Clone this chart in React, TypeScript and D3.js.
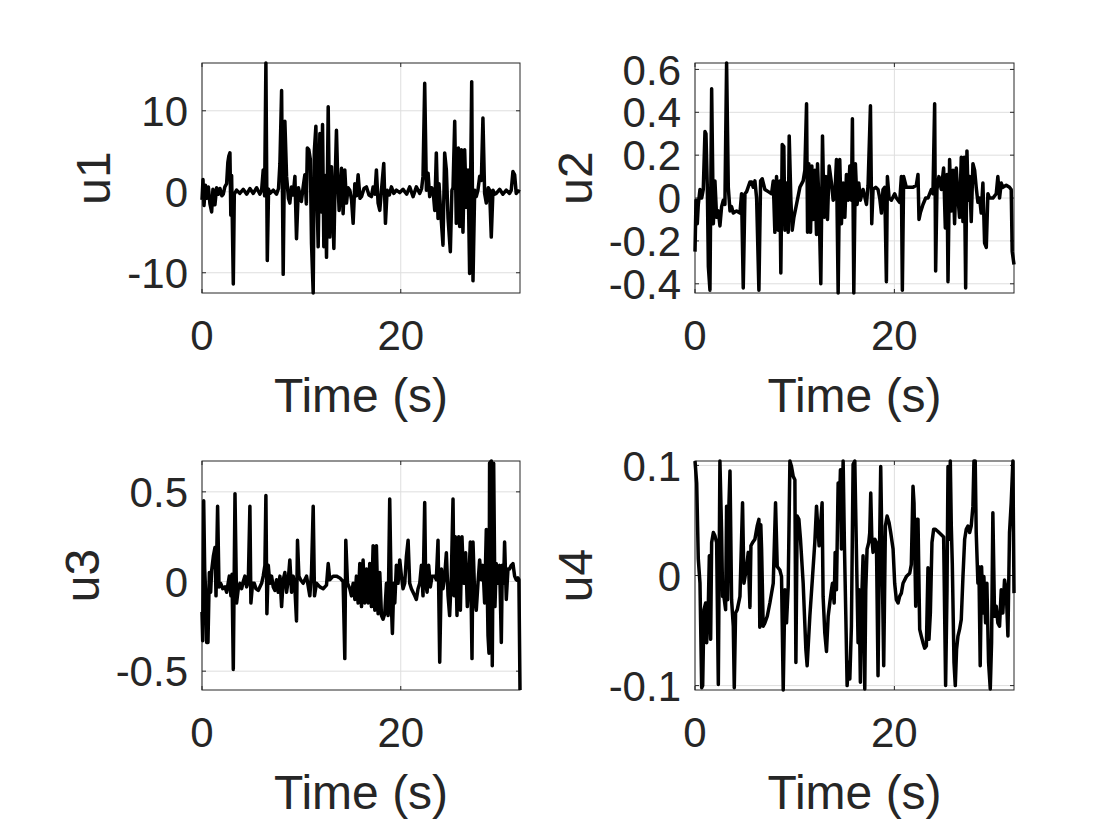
import * as d3 from "d3";
import React, { useEffect, useRef } from "react";

type Pt = [number, number]; // [time (s), value]

const timeDomain: [number, number] = [0, 32];
const timeTicks = [0, 20];
const xLabel = "Time (s)";

const u1Ticks = [-10, 0, 10];
const u2Ticks = [-0.4, -0.2, 0, 0.2, 0.4, 0.6];
const u3Ticks = [-0.5, 0, 0.5];
const u4Ticks = [-0.1, 0, 0.1];

const u1: Pt[] = [
  [0, -1.0], [0.1, 1.5], [0.2, -1.7], [0.35, 0.8], [0.5, -0.8], [0.64, 0.6], [0.8, -1.5], [0.97, -2.5],
  [1.1, 0.3], [1.3, -1.6], [1.47, 0.5], [1.65, -0.3], [1.81, 0.4], [2.0, -0.5], [2.14, -0.3], [2.3, 0.6],
  [2.48, 1.0], [2.6, 3.6], [2.7, 4.4], [2.81, 4.8], [2.9, -2.9], [2.98, 2.0], [3.15, -11.4], [3.25, -0.3],
  [3.48, 0.2], [3.8, -0.2], [4.15, 0.3], [4.5, -0.3], [4.82, 0.4], [5.16, -0.2], [5.5, 0.5], [5.83, -0.3],
  [6.0, 0.2], [6.16, 2.7], [6.3, -0.5], [6.43, 15.9], [6.57, -8.5], [6.7, 0.3], [6.83, -0.2], [7.17, 0.2],
  [7.5, -0.3], [7.7, 0.4], [7.84, 3.5], [8.01, 12.5], [8.17, -10.2], [8.34, 8.7], [8.51, 1.9], [8.7, -0.8],
  [8.84, -1.4], [9.0, 0.6], [9.18, -0.4], [9.35, 1.9], [9.51, -5.8], [9.7, 0.5], [9.85, -0.3], [10.0, -1.2],
  [10.18, 0.6], [10.35, 2.1], [10.5, -1.5], [10.6, 5.4], [10.75, 5.2], [10.9, 4.0], [11.02, -6.4], [11.19, -12.5],
  [11.3, 5.0], [11.46, 8.1], [11.6, -2.0], [11.69, -6.8], [11.86, 7.2], [12.0, -2.5], [12.13, 8.3], [12.26, -6.8],
  [12.4, 2.0], [12.53, -8.1], [12.7, 10.5], [12.86, -5.6], [13.03, 3.1], [13.27, -7.0], [13.4, 1.5], [13.53, 7.6],
  [13.65, 2.0], [13.8, -2.3], [14.04, 2.9], [14.2, -2.7], [14.37, 2.7], [14.54, -1.4], [14.7, 0.5], [14.87, 0.2],
  [15.05, -1.0], [15.21, -3.9], [15.38, 1.0], [15.55, -0.5], [15.71, 2.1], [15.9, -0.8], [16.05, -0.6], [16.3, 0.4],
  [16.55, 0.6], [16.8, -0.4], [17.05, -0.6], [17.22, 0.6], [17.4, -0.3], [17.55, 2.7], [17.72, -1.4], [17.89, -2.3],
  [18.06, 0.2], [18.29, 3.5], [18.46, -3.9], [18.63, 0.2], [18.85, -0.4], [19.06, 0.6], [19.3, -0.2], [19.56, 0.2],
  [19.9, -0.1], [20.23, 0.3], [20.6, -0.3], [20.9, 0.6], [21.24, -0.6], [21.57, 0.6], [21.91, -0.2], [22.1, 0.4],
  [22.24, 1.9], [22.41, 13.4], [22.58, 0.2], [22.75, 2.3], [22.91, -0.6], [23.1, 0.5], [23.25, 0.2], [23.42, -2.3],
  [23.58, 4.8], [23.75, -3.3], [23.85, 1.0], [24.02, -2.5], [24.25, -6.6], [24.42, 4.8], [24.59, 2.7], [24.76, -3.3],
  [24.99, -7.4], [25.15, 0.2], [25.26, 0.5], [25.43, 8.7], [25.59, -3.9], [25.8, 5.4], [25.93, -4.3], [26.1, 5.2],
  [26.26, -5.0], [26.43, 5.2], [26.6, -1.9], [26.77, 2.7], [26.93, -10.1], [27.14, 13.6], [27.27, -11.0], [27.44, 0.2],
  [27.6, -0.6], [27.77, 0.2], [27.94, 1.9], [28.11, 1.4], [28.27, 9.1], [28.44, -0.2], [28.61, -1.4], [28.8, 0.5],
  [28.94, 0.2], [29.11, -5.6], [29.28, 0.2], [29.45, -0.3], [29.61, -0.2], [29.95, 0.3], [30.28, -0.3], [30.62, 0.2],
  [30.95, -0.2], [31.12, 0.2], [31.29, 2.5], [31.46, 2.1], [31.62, -0.2], [31.8, 0.1], [32.0, 0.0],
];

const u2: Pt[] = [
  [0, -0.25], [0.1, -0.01], [0.23, -0.12], [0.33, -0.03], [0.5, 0.04], [0.67, 0.0], [0.83, 0.04], [1.0, 0.31],
  [1.1, 0.3], [1.24, 0.04], [1.34, -0.32], [1.5, -0.43], [1.67, 0.51], [1.84, -0.12], [2.0, 0.08], [2.17, -0.09],
  [2.34, -0.06], [2.5, -0.13], [2.67, -0.04], [2.84, -0.01], [3.0, -0.03], [3.17, 0.63], [3.34, 0.05], [3.51, -0.06],
  [3.67, -0.04], [3.84, -0.07], [4.17, -0.06], [4.51, -0.07], [4.67, 0.02], [4.84, -0.42], [5.01, 0.02], [5.18, 0.03],
  [5.51, 0.075], [5.68, 0.075], [5.84, 0.05], [6.01, 0.08], [6.18, 0.0], [6.41, -0.43], [6.58, 0.08], [6.74, 0.09],
  [7.01, 0.04], [7.35, 0.03], [7.68, 0.02], [7.85, 0.08], [8.01, -0.16], [8.18, 0.1], [8.35, -0.15], [8.51, 0.08],
  [8.61, -0.35], [8.75, 0.25], [8.91, 0.24], [9.02, -0.15], [9.18, 0.07], [9.35, -0.16], [9.45, 0.29], [9.62, -0.01],
  [9.75, -0.15], [9.92, -0.09], [10.18, -0.03], [10.52, 0.05], [10.85, 0.08], [11.02, 0.13], [11.19, 0.44], [11.29, -0.16],
  [11.42, 0.16], [11.59, -0.16], [11.72, 0.15], [11.85, -0.1], [12.02, 0.13], [12.19, -0.17], [12.29, 0.16], [12.45, -0.04],
  [12.62, -0.4], [12.79, 0.29], [12.95, -0.09], [13.12, 0.1], [13.29, -0.1], [13.46, 0.15], [13.69, 0.07], [13.86, -0.01],
  [14.02, 0.0], [14.19, 0.18], [14.36, -0.443], [14.52, 0.18], [14.69, -0.12], [14.86, 0.07], [15.03, -0.09], [15.19, 0.11],
  [15.36, -0.01], [15.53, 0.15], [15.69, -0.01], [15.79, 0.37], [15.93, -0.443], [16.09, 0.16], [16.26, -0.03], [16.43, 0.07],
  [16.59, -0.01], [16.86, 0.04], [17.2, -0.03], [17.36, 0.06], [17.6, 0.43], [17.73, -0.12], [17.86, 0.04], [18.13, 0.05],
  [18.36, 0.04], [18.53, 0.0], [18.7, -0.07], [18.86, 0.04], [19.03, 0.05], [19.2, -0.39], [19.3, 0.1], [19.47, 0.0],
  [19.7, -0.01], [20.03, 0.02], [20.2, 0.0], [20.53, -0.02], [20.7, 0.1], [20.8, -0.43], [20.93, 0.1], [21.2, 0.05],
  [21.54, 0.05], [21.87, 0.05], [22.2, 0.06], [22.37, 0.11], [22.47, -0.1], [22.6, -0.07], [22.87, -0.03], [23.14, 0.0],
  [23.37, 0.0], [23.71, 0.04], [23.87, 0.02], [24.04, 0.44], [24.14, -0.34], [24.27, 0.04], [24.47, 0.1], [24.71, 0.04],
  [24.94, 0.14], [25.11, -0.14], [25.28, 0.11], [25.38, -0.39], [25.54, 0.18], [25.71, -0.06], [25.88, 0.13], [26.04, -0.12],
  [26.21, 0.14], [26.38, 0.0], [26.54, -0.09], [26.71, 0.19], [26.88, -0.11], [27.01, 0.19], [27.15, -0.42], [27.28, 0.22],
  [27.41, -0.01], [27.55, 0.1], [27.71, -0.11], [27.88, 0.16], [28.05, 0.13], [28.21, 0.05], [28.38, -0.02], [28.55, 0.0],
  [28.71, -0.07], [28.88, 0.07], [29.05, -0.21], [29.22, -0.23], [29.38, 0.02], [29.55, 0.0], [29.88, 0.0], [30.22, 0.02],
  [30.38, 0.1], [30.55, 0.0], [30.72, 0.07], [30.88, 0.05], [31.22, 0.06], [31.55, 0.05], [31.72, 0.04], [31.82, -0.25],
  [32.0, -0.31],
];

const u3: Pt[] = [
  [0, -0.17], [0.07, -0.33], [0.17, 0.45], [0.27, 0.07], [0.37, -0.06], [0.47, -0.34], [0.6, -0.34], [0.74, 0.05],
  [0.87, -0.06], [0.97, 0.06], [1.14, 0.14], [1.31, 0.19], [1.41, -0.08], [1.57, 0.42], [1.71, -0.03], [1.88, -0.01],
  [2.08, -0.04], [2.31, -0.03], [2.48, -0.06], [2.75, 0.03], [2.91, -0.08], [3.02, 0.04], [3.15, -0.49], [3.32, 0.49],
  [3.48, -0.12], [3.65, -0.04], [3.82, -0.01], [3.99, -0.04], [4.15, 0.0], [4.32, 0.03], [4.49, -0.03], [4.66, 0.0],
  [4.82, 0.42], [4.92, -0.12], [5.09, -0.01], [5.26, -0.01], [5.43, -0.04], [5.66, -0.05], [6.0, -0.01], [6.16, 0.03],
  [6.33, 0.09], [6.43, 0.48], [6.53, -0.18], [6.67, 0.09], [6.83, -0.01], [7.0, 0.03], [7.17, -0.03], [7.34, -0.05],
  [7.5, 0.01], [7.67, -0.06], [7.84, 0.03], [8.01, -0.14], [8.17, 0.01], [8.34, 0.05], [8.51, -0.06], [8.68, 0.01],
  [8.84, 0.12], [9.01, -0.06], [9.18, 0.03], [9.35, -0.04], [9.51, -0.22], [9.61, 0.23], [9.75, 0.03], [9.92, 0.01],
  [10.18, -0.01], [10.52, 0.03], [10.85, -0.08], [11.02, 0.05], [11.19, 0.42], [11.32, -0.08], [11.52, -0.01], [11.86, -0.03],
  [12.19, -0.04], [12.53, -0.02], [12.7, 0.1], [12.86, 0.01], [13.2, 0.03], [13.53, 0.03], [13.87, 0.02], [14.2, 0.0],
  [14.37, -0.43], [14.47, 0.23], [14.64, -0.01], [14.87, -0.04], [15.04, -0.08], [15.21, -0.01], [15.38, -0.1], [15.54, 0.03],
  [15.71, -0.12], [15.88, 0.1], [16.05, -0.14], [16.21, 0.12], [16.38, -0.12], [16.55, 0.07], [16.72, -0.12], [16.88, 0.1],
  [17.05, -0.14], [17.22, 0.2], [17.39, -0.16], [17.55, 0.2], [17.72, -0.18], [17.89, 0.05], [18.06, -0.19], [18.22, -0.21],
  [18.39, -0.18], [18.56, -0.01], [18.73, -0.19], [18.89, 0.46], [19.06, -0.14], [19.16, -0.29], [19.3, -0.01], [19.4, -0.12],
  [19.56, 0.09], [19.73, -0.01], [19.9, 0.12], [20.07, 0.03], [20.23, -0.04], [20.4, -0.01], [20.57, 0.14], [20.74, 0.23],
  [20.9, -0.01], [21.07, -0.04], [21.24, -0.06], [21.41, -0.08], [21.57, -0.1], [21.74, -0.04], [21.91, -0.01], [22.08, 0.09],
  [22.24, -0.08], [22.41, 0.44], [22.51, -0.01], [22.65, -0.06], [22.81, 0.09], [22.98, -0.03], [23.15, 0.03], [23.42, 0.03],
  [23.58, 0.01], [23.75, 0.23], [23.92, -0.45], [24.09, 0.07], [24.25, -0.04], [24.42, 0.03], [24.59, 0.16], [24.76, -0.08],
  [24.92, -0.19], [25.09, 0.03], [25.26, 0.46], [25.36, -0.08], [25.49, 0.25], [25.66, -0.19], [25.83, 0.25], [26.0, -0.16],
  [26.16, 0.25], [26.33, -0.01], [26.53, 0.16], [26.7, -0.14], [26.87, 0.03], [27.0, 0.22], [27.17, -0.43], [27.27, 0.22],
  [27.44, -0.08], [27.6, -0.16], [27.77, -0.01], [27.94, 0.12], [28.11, 0.01], [28.27, 0.09], [28.44, -0.12], [28.61, 0.29],
  [28.78, -0.3], [28.88, -0.4], [28.94, 0.66], [29.11, 0.672], [29.21, -0.47], [29.35, 0.66], [29.48, -0.14], [29.61, 0.1],
  [29.78, -0.01], [29.95, 0.09], [30.12, -0.34], [30.22, 0.09], [30.35, -0.01], [30.45, 0.22], [30.62, -0.1], [30.79, 0.07],
  [30.95, 0.07], [31.12, 0.09], [31.29, 0.1], [31.46, 0.03], [31.62, 0.01], [31.79, 0.02], [31.89, 0.01], [32.0, -0.605],
];

const u4: Pt[] = [
  [0, 0.104], [0.17, 0.084], [0.33, 0.015], [0.5, -0.007], [0.67, -0.102], [0.77, -0.1], [0.9, -0.031], [1.07, -0.025],
  [1.17, -0.061], [1.34, -0.025], [1.44, 0.018], [1.57, -0.058], [1.67, 0.03], [1.84, 0.039], [2.0, 0.036], [2.17, 0.03],
  [2.34, -0.099], [2.5, 0.104], [2.67, 0.039], [2.77, -0.019], [2.9, -0.019], [3.07, -0.031], [3.17, 0.063], [3.27, -0.022],
  [3.41, 0.066], [3.51, 0.095], [3.67, -0.022], [3.84, -0.046], [3.94, -0.102], [4.07, -0.034], [4.24, -0.031], [4.51, -0.019],
  [4.77, 0.066], [4.91, -0.007], [5.18, 0.008], [5.34, 0.021], [5.51, -0.029], [5.61, 0.027], [5.78, 0.03], [6.01, 0.033],
  [6.24, 0.045], [6.41, 0.051], [6.5, -0.047], [6.6, 0.046], [6.68, 0.024], [6.84, -0.046], [7.01, -0.043], [7.25, -0.037],
  [7.51, -0.025], [7.85, -0.007], [8.08, 0.066], [8.25, 0.008], [8.51, 0.005], [8.68, -0.001], [8.85, -0.104], [9.02, -0.013],
  [9.18, -0.043], [9.35, -0.01], [9.52, 0.104], [9.68, 0.099], [9.85, 0.09], [10.02, 0.087], [10.12, -0.079], [10.25, 0.054],
  [10.42, 0.051], [10.58, 0.033], [10.85, -0.007], [11.12, -0.067], [11.25, -0.082], [11.52, -0.037], [11.79, -0.001], [12.02, 0.03],
  [12.19, 0.063], [12.29, 0.048], [12.45, 0.027], [12.59, 0.045], [12.75, 0.066], [12.85, -0.019], [13.02, -0.052], [13.19, -0.069],
  [13.36, -0.037], [13.52, -0.025], [13.69, -0.013], [13.79, -0.007], [13.96, -0.025], [14.06, 0.021], [14.19, -0.013], [14.36, 0.084],
  [14.46, 0.054], [14.59, 0.096], [14.69, 0.024], [14.86, 0.104], [14.99, 0.027], [15.13, -0.037], [15.26, -0.1], [15.39, -0.079],
  [15.53, -0.094], [15.69, -0.046], [15.86, 0.101], [16.03, 0.104], [16.19, 0.024], [16.36, -0.061], [16.46, -0.013], [16.59, -0.097],
  [16.69, -0.031], [16.86, 0.018], [17.03, -0.103], [17.13, -0.013], [17.26, 0.024], [17.43, 0.03], [17.53, 0.039], [17.63, 0.075],
  [17.73, 0.036], [17.86, 0.021], [18.03, 0.033], [18.2, 0.03], [18.36, -0.091], [18.46, -0.007], [18.63, 0.099], [18.76, 0.021],
  [18.93, -0.082], [19.1, 0.045], [19.27, 0.054], [19.47, 0.048], [19.63, 0.039], [19.87, 0.024], [20.03, -0.007], [20.2, -0.022],
  [20.37, -0.025], [20.53, -0.019], [20.7, -0.016], [20.87, -0.007], [21.2, -0.001], [21.54, 0.002], [21.7, 0.01], [21.87, 0.081],
  [21.97, 0.066], [22.14, -0.028], [22.27, 0.051], [22.37, 0.051], [22.54, -0.049], [22.7, -0.055], [22.87, -0.061], [23.04, -0.066],
  [23.21, -0.064], [23.37, 0.007], [23.47, -0.058], [23.61, -0.034], [23.77, 0.03], [23.94, 0.042], [24.11, 0.042], [24.37, 0.04],
  [24.71, 0.037], [24.94, 0.035], [25.14, -0.1], [25.28, -0.013], [25.38, 0.099], [25.48, 0.033], [25.61, 0.104], [25.71, 0.045],
  [25.81, 0.011], [25.98, -0.079], [26.11, -0.1], [26.24, -0.067], [26.38, -0.055], [26.54, -0.049], [26.71, -0.04], [26.88, -0.001],
  [27.05, 0.033], [27.21, 0.042], [27.38, 0.045], [27.55, 0.039], [27.71, 0.045], [27.88, 0.063], [27.98, 0.104], [28.11, 0.104],
  [28.21, 0.039], [28.38, -0.007], [28.48, 0.008], [28.61, -0.082], [28.75, 0.008], [28.88, -0.034], [28.98, -0.001], [29.15, -0.043],
  [29.28, -0.007], [29.45, -0.079], [29.62, -0.103], [29.75, -0.061], [29.88, 0.057], [30.05, -0.037], [30.22, -0.028], [30.38, -0.043],
  [30.55, -0.046], [30.72, -0.013], [30.88, -0.034], [31.05, -0.004], [31.22, -0.013], [31.39, -0.055], [31.55, 0.039], [31.72, 0.066],
  [31.89, 0.104], [32.0, -0.016],
];

const panels = [
  { name: "u1", data: u1, yTicks: u1Ticks },
  { name: "u2", data: u2, yTicks: u2Ticks },
  { name: "u3", data: u3, yTicks: u3Ticks },
  { name: "u4", data: u4, yTicks: u4Ticks },
];

// axes boxes in pixels: [left, top, width, height]
const boxes = [
  [202, 63, 318, 230],
  [695, 63, 319, 230],
  [202, 461, 318, 229],
  [695, 461, 319, 229],
];

const width = 1120;
const height = 840;
const font = "'Liberation Sans', Arial, Helvetica, sans-serif";
const textColor = "#262626";
const tickSize = 42;
const labelSize = 48;
const tickLen = 4;

export default function App() {
  const svgRef = useRef<SVGSVGElement>(null);

  useEffect(() => {
    if (!svgRef.current) return;
    const svg = d3.select(svgRef.current);
    svg.selectAll("*").remove();

    svg.append("rect").attr("width", width).attr("height", height).attr("fill", "#fff");

    panels.forEach((p, i) => {
      const [left, top, w, h] = boxes[i];
      const right = left + w;
      const bottom = top + h;
      const x = d3.scaleLinear(timeDomain, [left, right]);
      const y = d3.scaleLinear(d3.extent(p.data, (d) => d[1]) as [number, number], [bottom, top]);

      const g = svg.append("g").attr("font-family", font).attr("fill", textColor);

      // grid
      g.append("g")
        .attr("stroke", "#dedede")
        .attr("stroke-width", 1)
        .call((gg) =>
          gg.selectAll(".gx").data(timeTicks).join("line")
            .attr("x1", (d) => x(d)).attr("x2", (d) => x(d))
            .attr("y1", top).attr("y2", bottom)
        )
        .call((gg) =>
          gg.selectAll(".gy").data(p.yTicks).join("line")
            .attr("x1", left).attr("x2", right)
            .attr("y1", (d) => y(d)).attr("y2", (d) => y(d))
        );

      // box and inward ticks
      const ax = g.append("g").attr("stroke", textColor).attr("stroke-width", 1).attr("fill", "none");
      ax.append("rect").attr("x", left).attr("y", top).attr("width", w).attr("height", h);
      ax.selectAll(".tx").data(timeTicks).join("path")
        .attr("d", (d) => `M${x(d)},${bottom}v${-tickLen}M${x(d)},${top}v${tickLen}`);
      ax.selectAll(".ty").data(p.yTicks).join("path")
        .attr("d", (d) => `M${left},${y(d)}h${tickLen}M${right},${y(d)}h${-tickLen}`);

      // tick labels
      g.append("g")
        .attr("font-size", tickSize)
        .attr("text-anchor", "middle")
        .selectAll("text").data(timeTicks).join("text")
        .attr("x", (d) => x(d))
        .attr("y", bottom + 57)
        .text((d) => String(d));

      const yLabels = g.append("g")
        .attr("font-size", tickSize)
        .attr("text-anchor", "end");
      yLabels.selectAll("text").data(p.yTicks).join("text")
        .attr("x", left - 14)
        .attr("y", (d) => y(d))
        .attr("dy", "0.36em")
        .text((d) => String(d));

      const bb = (yLabels.node() as SVGGElement).getBBox();

      // axis labels
      g.append("text")
        .attr("font-size", labelSize)
        .attr("text-anchor", "middle")
        .attr("x", (left + right) / 2)
        .attr("y", bottom + 119)
        .text(xLabel);

      g.append("text")
        .attr("font-size", labelSize)
        .attr("text-anchor", "middle")
        .attr("transform", `translate(${bb.x - 17},${(top + bottom) / 2}) rotate(-90)`)
        .text(p.name);

      // signal
      const line = d3.line<Pt>().x((d) => x(d[0])).y((d) => y(d[1]));
      g.append("path")
        .datum(p.data)
        .attr("fill", "none")
        .attr("stroke", "#000")
        .attr("stroke-width", 3.5)
        .attr("stroke-linejoin", "round")
        .attr("d", line);
    });
  }, []);

  return (
    <svg
      ref={svgRef}
      width={width}
      height={height}
      style={{ position: "absolute", left: 0, top: 0 }}
    />
  );
}
